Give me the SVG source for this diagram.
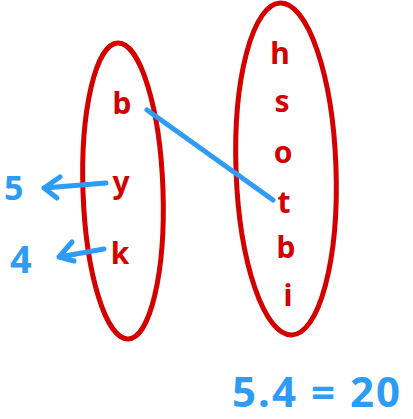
<svg xmlns="http://www.w3.org/2000/svg" width="413" height="419" viewBox="0 0 413 419">
<style>
.set{fill:none;stroke:#d40000;stroke-width:5}
.r{fill:#d40000;font-family:"Noto Sans",sans-serif;font-size:30px;font-weight:bold;text-anchor:middle}
.bl{fill:#2e9cf4;font-family:"Noto Sans",sans-serif;font-weight:bold}
.con{fill:none;stroke:#2e9cf4;stroke-width:5;stroke-linecap:round;stroke-linejoin:round}
</style>
<rect width="413" height="419" fill="#fff"/>
<g id="setA">
<ellipse class="set" cx="123" cy="191" rx="40" ry="148" transform="rotate(-2 123 191)"/>
<text class="r" x="122" y="114">b</text>
<text class="r" x="121" y="193">y</text>
<text class="r" x="120" y="264">k</text>
</g>
<g id="setB">
<ellipse class="set" cx="286" cy="169" rx="50" ry="166" transform="rotate(-2 286 169)"/>
<text class="r" x="280" y="64">h</text>
<text class="r" x="282" y="112">s</text>
<text class="r" x="283" y="163">o</text>
<text class="r" x="284" y="213">t</text>
<text class="r" x="286" y="258">b</text>
<text class="r" x="288" y="306">i</text>
</g>
<g id="img5"><text class="bl" x="4" y="200" font-size="34">5</text></g>
<g id="img4"><text class="bl" x="10" y="273" font-size="38">4</text></g>
<g id="eq"><text class="bl" x="232" y="407" font-size="42" textLength="168" lengthAdjust="spacing">5.4 = 20</text></g>
<g id="connectors">
<path class="con" d="M147 110 L273 200"/>
<path class="con" d="M106 183 L44 188 M60 177 L44 188 L57 198"/>
<path class="con" d="M104 249 L59 257 M72 242 L59 257 L74 261"/>
</g>
</svg>
